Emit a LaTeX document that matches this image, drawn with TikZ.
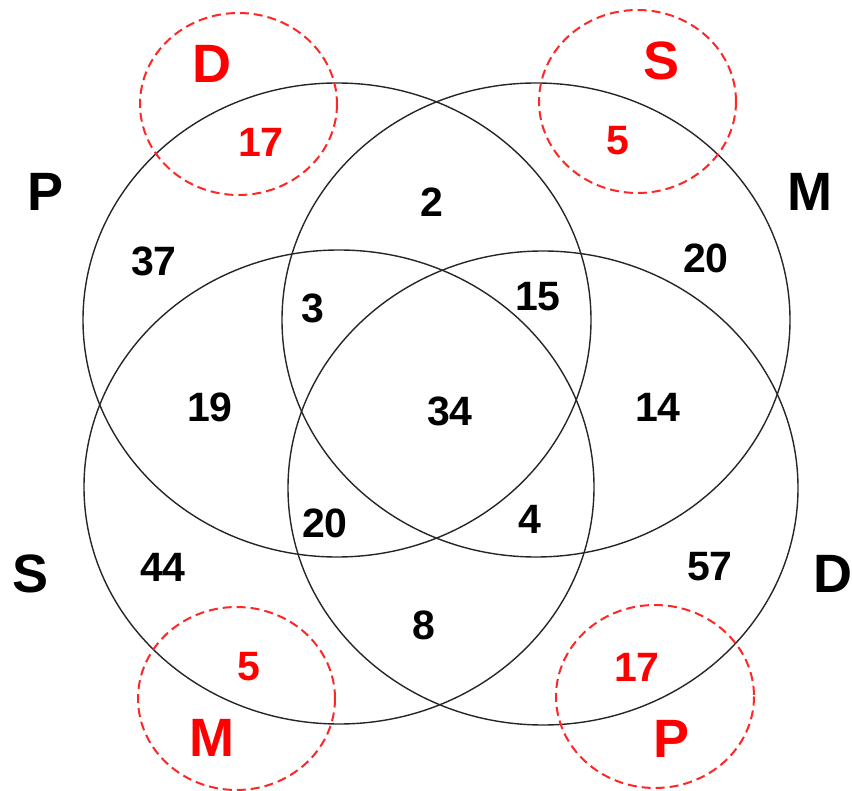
\documentclass[tikz,border=0pt]{standalone}
\usepackage{fontspec}
\setmainfont{Liberation Sans}
\begin{document}
\begin{tikzpicture}[x=1pt,y=-1pt,
  setline/.style={draw=black!85, line width=1.4pt},
  subline/.style={draw=red!85!white, line width=2pt, dash pattern=on 9pt off 5pt},
  num/.style={inner sep=0pt, font=\fontsize{41}{41}\selectfont\bfseries, text=black},
  rnum/.style={num, text=red},
  lab/.style={inner sep=0pt, font=\fontsize{54}{54}\selectfont\bfseries, text=black},
  rlab/.style={lab, text=red}]
\useasboundingbox (0,0) rectangle (852,791);
% main sets
\draw[setline] (337,320) ellipse [x radius=254, y radius=237];
\draw[setline] (536,320) ellipse [x radius=254, y radius=237];
\draw[setline] (339,487) ellipse [x radius=255, y radius=237];
\draw[setline] (543,488) ellipse [x radius=255, y radius=237];
% dashed sub-circles
\draw[subline] (238.5,104) ellipse [x radius=98.5, y radius=91];
\draw[subline] (637.5,101.5) ellipse [x radius=98.5, y radius=91.5];
\draw[subline] (236.5,698.5) ellipse [x radius=98.5, y radius=91.5];
\draw[subline] (655,696.5) ellipse [x radius=99, y radius=91.5];
% set labels
\node[lab] (lP) at (46,192) {P};
\node[lab] (lM) at (810,192) {M};
\node[lab] (lS) at (31,574) {S};
\node[lab] (lD) at (833,574) {D};
% red labels
\node[rlab] (rD) at (212,64) {D};
\node[rlab] (rS) at (662,61) {S};
\node[rlab] (rM) at (212,738) {M};
\node[rlab] (rP) at (672,739) {P};
\node[rnum] (r17a) at (261,142) {17};
\node[rnum] (r5a) at (618,141) {5};
\node[rnum] (r5b) at (249,667) {5};
\node[rnum] (r17b) at (637,667) {17};
% region counts
\node[num] (n37) at (154,261) {37};
\node[num] (n2) at (432,202) {2};
\node[num] (n20a) at (706,258) {20};
\node[num] (n3) at (313,308) {3};
\node[num] (n15) at (538,297) {15};
\node[num] (n19) at (210,407) {19};
\node[num] (n34) at (450,411) {34};
\node[num] (n14) at (658,407) {14};
\node[num] (n20b) at (325,523) {20};
\node[num] (n4) at (530,519) {4};
\node[num] (n44) at (163,567) {44};
\node[num] (n57) at (710,567) {57};
\node[num] (n8) at (424,625) {8};
\end{tikzpicture}
\end{document}
